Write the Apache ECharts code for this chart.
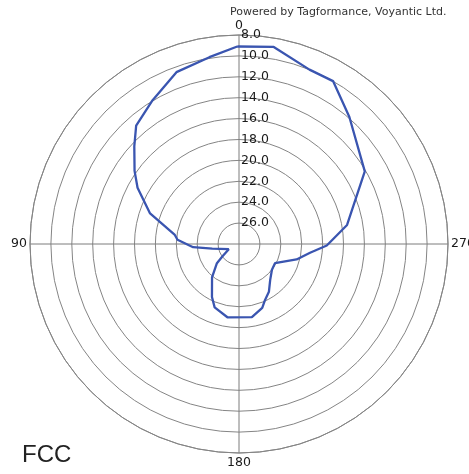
<!DOCTYPE html>
<html>
<head>
<meta charset="utf-8">
<script src="https://cdn.jsdelivr.net/npm/echarts@6/dist/echarts.min.js"></script>
<style>
  html, body { margin: 0; padding: 0; background: #fff; }
  #chart { width: 469px; height: 474px; }
</style>
</head>
<body>
<div id="chart"></div>
<script>
// Radiation pattern: angle in degrees (counter-clockwise from 0 at top), value on inverted radial scale
const angles = [0.5, 9, 20, 31, 41, 47, 55, 61, 71, 82, 86, 94, 100, 117, 127, 131, 141, 153, 159, 171,
                190, 200, 205, 212, 221, 232, 242, 255, 263, 269, 280, 300, 319, 330, 338, 350];
const values = [9.1, 9.9, 10.5, 11.95, 13.0, 14.3, 15.8, 16.9, 19.0, 21.8, 22.1, 23.6, 25.4, 26.9, 26.0, 25.2, 23.9, 22.3, 21.5, 20.9,
                20.9, 21.5, 22.1, 22.6, 23.45, 24.0, 24.1, 22.3, 21.15, 19.6, 17.5, 14.1, 11.9, 10.0, 10.0, 8.85];
const radialMin = 8;
const radialMax = 28;
const radialStep = 2;
const angleTicks = [0, 90, 180, 270];

const pattern = angles.map((a, i) => [values[i], a]);
pattern.push([values[0], angles[0]]);

const chart = echarts.init(document.getElementById('chart'), null, { renderer: 'canvas' });
const gridColor = '#858585';
const labelFont = 'DejaVu Sans';

chart.setOption({
  animation: false,
  backgroundColor: '#ffffff',
  graphic: [
    {
      type: 'text', left: 230, top: 7,
      style: { text: 'Powered by Tagformance, Voyantic Ltd.', font: '11px "DejaVu Sans"', fill: '#333' }
    },
    {
      type: 'text', left: 22, top: 443,
      style: { text: 'FCC', font: '24px "Liberation Sans"', fill: '#222' }
    }
  ],
  polar: { center: [239, 244], radius: 209 },
  angleAxis: {
    type: 'value', min: 0, max: 360, interval: 90,
    startAngle: 90, clockwise: false,
    axisLine: { show: true, lineStyle: { color: gridColor, width: 1 } },
    axisTick: { show: false },
    splitLine: { show: true, lineStyle: { color: '#7c7c7c', width: 1 } },
    axisLabel: {
      margin: 3, color: '#1a1a1a', fontFamily: labelFont, fontSize: 12.5,
      formatter: v => angleTicks.includes(v) ? String(v) : ''
    }
  },
  radiusAxis: {
    type: 'value', min: radialMin, max: radialMax, interval: radialStep, inverse: true,
    axisLine: { show: false },
    axisTick: { show: false },
    splitLine: { show: true, lineStyle: { color: gridColor, width: 1 } },
    axisLabel: {
      margin: -2, align: 'left', verticalAlign: 'middle',
      color: '#1a1a1a', fontFamily: labelFont, fontSize: 12.5,
      formatter: v => v === radialMax ? '' : v.toFixed(1)
    }
  },
  series: [{
    type: 'line', coordinateSystem: 'polar',
    data: pattern, showSymbol: false, symbol: 'none',
    lineStyle: { color: '#3a55b0', width: 2.3 },
    z: 5
  }]
});
</script>
</body>
</html>
